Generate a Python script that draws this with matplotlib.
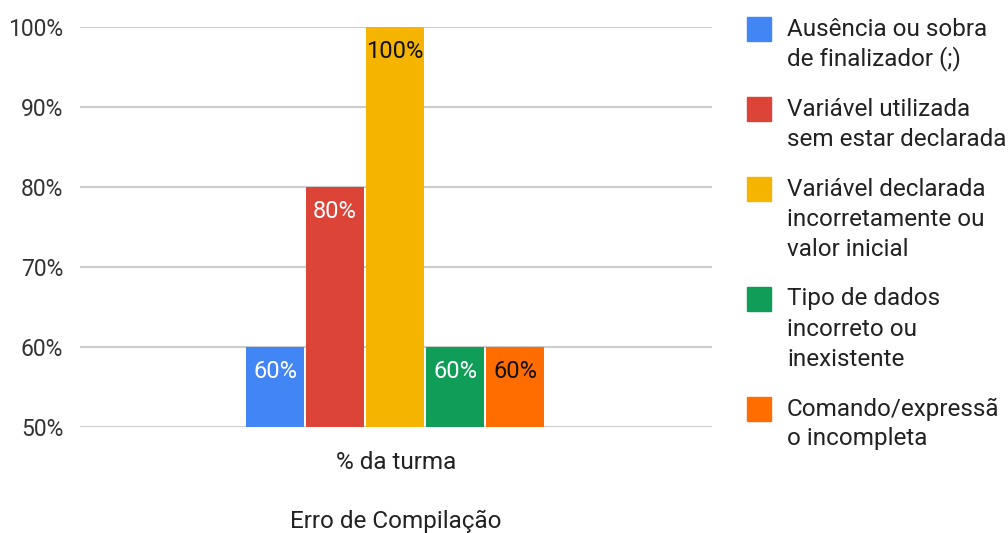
#Error chart

#Importing Libraries
import matplotlib
matplotlib.use("Agg")
import matplotlib.pyplot as plt
from matplotlib.patches import Rectangle
import numpy as np

#Data
erros = ["Ausência ou sobra\nde finalizador (;)",
         "Variável utilizada\nsem estar declarada",
         "Variável declarada\nincorretamente ou\nvalor inicial",
         "Tipo de dados\nincorreto ou\ninexistente",
         "Comando/expressã\no incompleta"]
turma = [0.60, 0.80, 1.00, 0.60, 0.60]
cores = ["#4285F4", "#DB4437", "#F4B400", "#0F9D58", "#FF6D00"]
cor_rotulo = ["white", "white", "#111111", "white", "#111111"]
ticks = [0.5, 0.6, 0.7, 0.8, 0.9, 1.0]

plt.rcParams['font.family'] = ['Roboto', 'DejaVu Sans']

fig = plt.figure(figsize=(10.08, 5.33), dpi=100)
ax = fig.add_axes([0.0794, 0.1989, 0.627, 0.7505])

#Creating Bar Graph
largura = 0.0918
passo = 0.0949
pos = (np.arange(len(turma)) - 2) * passo - 0.0015
barras = ax.bar(pos, turma, width=largura, color=cores, zorder=3)

for b, v, c in zip(barras, turma, cor_rotulo):
    ax.text(b.get_x() + b.get_width() / 2, v - 0.031, f"{v:.0%}",
            ha="center", va="center", fontsize=17, color=c, zorder=4)

ax.set_xlim(-0.5, 0.5)
ax.set_ylim(0.5, 1.0)
ax.set_yticks(ticks)
ax.set_yticklabels([f"{t:.0%}" for t in ticks], fontsize=16.5, color="#333333")
ax.set_xticks([0])
ax.set_xticklabels(["% da turma"], fontsize=17.5, color="#222222")
ax.tick_params(length=0, pad=12)
ax.tick_params(axis="x", pad=17)
ax.grid(axis="y", color="#cccccc", linewidth=1.5, zorder=0)
for s in ax.spines.values():
    s.set_visible(False)

fig.text(0.393, 0.0225, "Erro de Compilação", ha="center", va="center",
         fontsize=17.5, color="#222222")

#Legend
y = 533 - 29
for nome, cor in zip(erros, cores):
    fig.patches.append(Rectangle((747 / 1008, (y - 12) / 533), 24 / 1008, 24 / 533,
                                 transform=fig.transFigure, color=cor))
    linhas = nome.split("\n")
    for i, linha in enumerate(linhas):
        fig.text(787 / 1008, (y - i * 30) / 533, linha, ha="left", va="center",
                 fontsize=17.5, color="#222222")
    y -= len(linhas) * 30 + 20

fig.savefig("out.png", dpi=100)
